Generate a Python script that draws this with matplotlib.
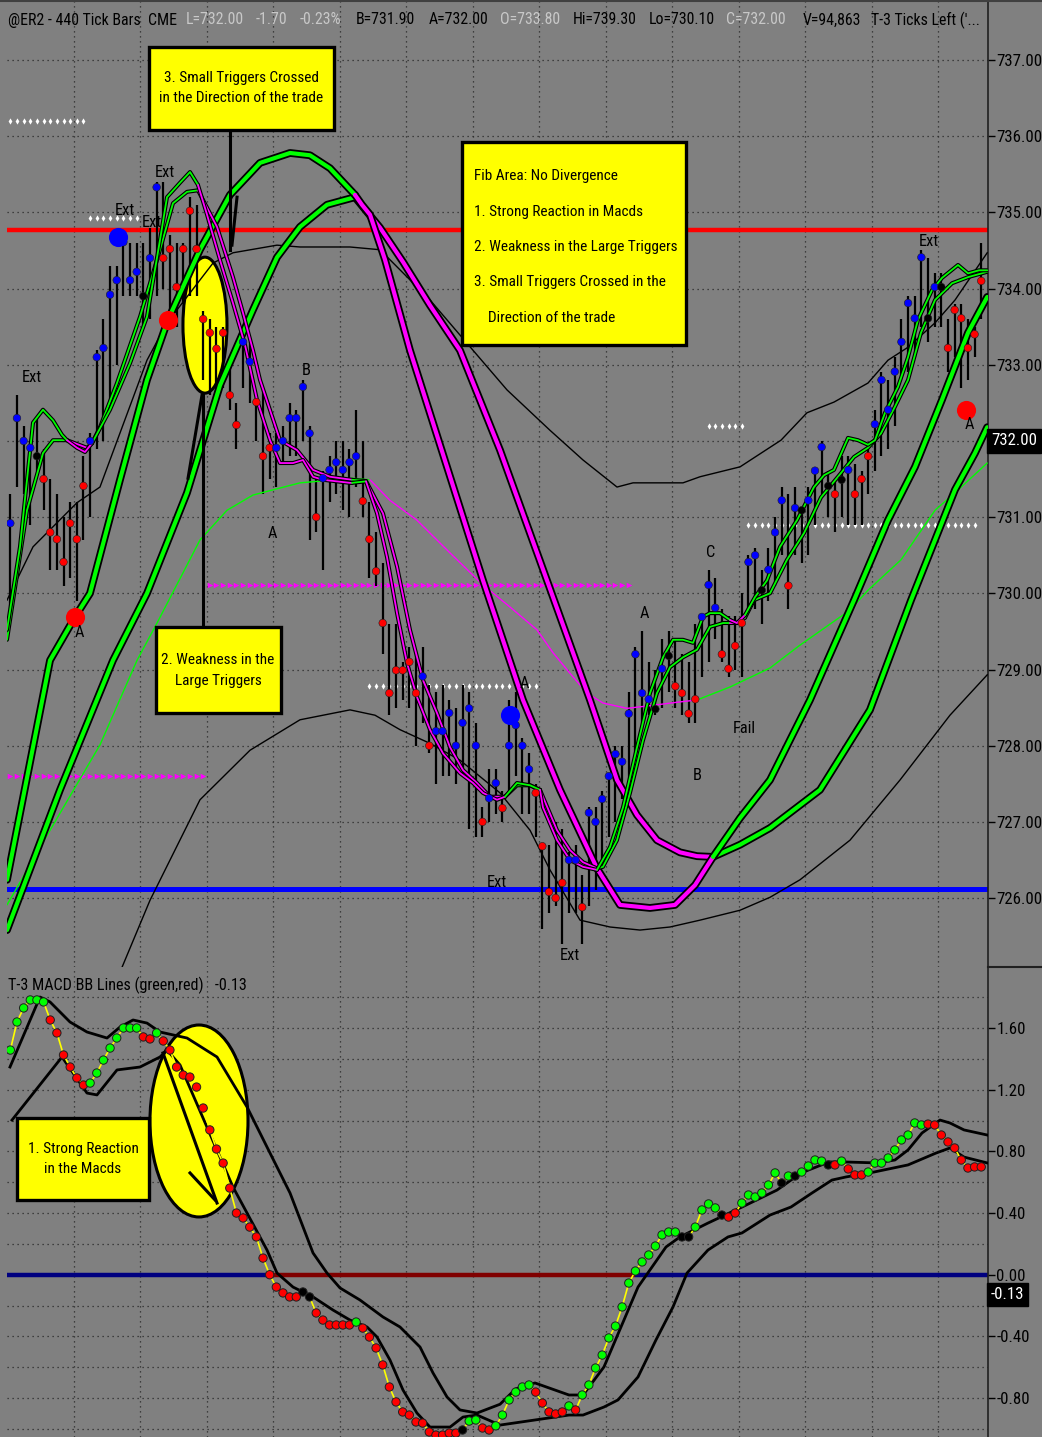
import matplotlib
matplotlib.use('Agg')
import matplotlib.pyplot as plt
from matplotlib.patches import Ellipse, Rectangle
from matplotlib.lines import Line2D
from matplotlib import font_manager

# ---- pick a narrow installed sans family (the reference uses a condensed UI font) ----
_tt = font_manager.fontManager.ttflist
_names = {f.name for f in _tt}
FAMILY, STRETCH = None, 'normal'
for p in ['Noto Sans ExtraCondensed', 'Liberation Sans Narrow', 'Noto Sans Condensed', 'Roboto Condensed',
          'Open Sans Condensed', 'DejaVu Sans Condensed', 'Noto Sans SemiCondensed']:
    if p in _names:
        FAMILY = p
        break
if FAMILY is None:
    cand = sorted(n for n in _names if ('Condensed' in n or 'Narrow' in n) and 'Mono' not in n
                  and 'Serif' not in n)
    if cand:
        FAMILY = cand[0]
if FAMILY is None and any(f.name == 'DejaVu Sans' and f.stretch == 'condensed' for f in _tt):
    FAMILY, STRETCH = 'DejaVu Sans', 'condensed'
if FAMILY is None:
    FAMILY = 'Liberation Sans'
plt.rcParams['font.family'] = [FAMILY, 'DejaVu Sans']
plt.rcParams['font.stretch'] = STRETCH

# ---------------- data: price bars ----------------
close = [
    730.92, 732.30, 732.00, 731.91, 731.80, 731.50, 730.80, 730.71, 730.41, 730.92,
    730.71, 731.41, 732.00, 733.10, 733.22, 733.92, 734.11, 734.61, 734.11, 734.22,
    733.90, 734.40, 735.33, 734.40, 734.52, 734.02, 734.52, 735.02, 734.52, 733.60,
    733.42, 733.21, 733.42, 732.60, 732.21, 733.30, 733.04, 732.51, 731.80, 731.91,
    731.91, 732.00, 732.30, 732.30, 732.71, 732.10, 731.00, 731.51, 731.62, 731.72,
    731.62, 731.72, 731.80, 731.21, 730.71, 730.29, 729.61, 728.69, 728.99, 728.99,
    729.10, 728.69, 728.91, 728.00, 728.19, 728.19, 728.43, 728.00, 728.30, 728.49,
    728.00, 727.00, 727.31, 727.51, 727.18, 728.00, 728.27, 728.00, 727.69, 727.38,
    726.68, 726.08, 726.00, 726.20, 726.50, 726.50, 725.88, 727.12, 727.00, 727.30,
    727.60, 727.89, 727.79, 728.42, 729.20, 728.69, 728.61, 728.48, 729.01, 729.18,
    728.78, 728.69, 728.42, 728.61, 729.69, 730.11, 729.81, 729.20, 729.01, 729.31,
    729.61, 730.41, 730.50, 730.04, 730.31, 730.80, 731.22, 730.10, 731.12, 731.09,
    731.22, 731.61, 731.92, 731.41, 731.30, 731.49, 731.62, 731.30, 731.50, 731.80,
    732.22, 732.80, 732.41, 732.91, 733.30, 733.81, 733.61, 734.41, 733.61, 734.02,
    734.02, 733.22, 733.72, 733.61, 733.22, 733.40, 734.10]
high = [
    731.3, 732.6, 732.2, 732.0, 732.3, 731.9, 731.5, 731.3, 731.0, 731.2,
    731.2, 731.8, 732.1, 733.2, 733.6, 734.3, 734.3, 734.7, 734.6, 734.6,
    734.6, 734.8, 735.4, 735.4, 734.7, 734.6, 734.6, 735.2, 735.1, 733.7,
    733.6, 733.5, 733.5, 733.0, 732.5, 733.4, 733.3, 732.6, 732.7, 732.1,
    732.1, 732.2, 732.5, 732.4, 732.8, 732.2, 731.5, 731.6, 731.8, 732.0,
    732.0, 731.9, 732.4, 732.0, 731.2, 730.8, 730.4, 729.6, 729.6, 729.1,
    729.3, 729.2, 729.3, 728.8, 728.7, 728.8, 728.6, 728.5, 728.8, 728.7,
    728.3, 727.2, 727.7, 727.7, 727.4, 728.6, 728.7, 728.1, 727.9, 727.5,
    726.7, 726.7, 727.0, 726.9, 726.6, 726.7, 726.3, 727.2, 727.2, 727.4,
    727.6, 728.0, 728.0, 728.7, 729.3, 729.5, 729.1, 729.0, 729.4, 729.5,
    729.4, 729.2, 729.1, 729.6, 729.7, 730.3, 730.2, 729.8, 729.7, 729.7,
    730.0, 730.5, 730.6, 730.3, 730.6, 731.0, 731.4, 731.3, 731.4, 731.1,
    731.4, 731.6, 732.0, 731.6, 731.5, 731.8, 731.8, 731.7, 731.6, 731.9,
    732.4, 732.9, 732.8, 733.1, 733.6, 733.9, 733.9, 734.5, 734.4, 734.2,
    734.2, 733.6, 733.8, 733.8, 733.6, 733.5, 734.6]
low = [
    729.7, 731.4, 731.3, 730.9, 731.6, 731.1, 730.3, 730.3, 730.1, 730.2,
    729.9, 730.7, 731.0, 731.9, 732.0, 732.5, 733.0, 733.9, 733.9, 733.9,
    733.5, 733.6, 733.9, 734.0, 733.6, 733.5, 733.8, 733.9, 733.9, 732.8,
    732.6, 732.6, 732.7, 732.4, 731.9, 732.7, 732.5, 732.0, 731.3, 731.5,
    731.4, 731.7, 731.8, 731.8, 732.0, 730.7, 730.8, 730.3, 731.2, 731.3,
    731.1, 731.0, 731.4, 731.0, 730.2, 730.1, 729.2, 728.4, 728.5, 728.6,
    728.5, 728.0, 728.3, 727.9, 727.5, 727.6, 727.6, 727.5, 727.6, 726.9,
    726.8, 726.8, 727.0, 727.1, 727.0, 727.4, 727.6, 727.1, 727.1, 726.8,
    725.6, 725.8, 725.9, 725.4, 725.8, 725.8, 725.4, 725.9, 726.1, 726.5,
    726.8, 727.0, 727.3, 727.4, 727.8, 728.2, 728.4, 728.4, 728.5, 728.7,
    728.5, 728.4, 728.3, 728.3, 728.9, 729.1, 729.4, 729.1, 728.9, 729.0,
    728.9, 729.8, 729.8, 729.6, 729.9, 730.1, 730.5, 729.8, 730.5, 730.4,
    730.5, 730.9, 731.3, 731.0, 730.8, 731.0, 730.9, 730.9, 730.9, 731.3,
    731.6, 731.8, 731.9, 732.2, 732.8, 732.9, 733.1, 733.5, 733.3, 733.5,
    733.5, 732.9, 733.1, 732.7, 732.8, 733.1, 733.6]
bar_col = ("BBBBKRRRRR" "RRBBBBBBBB" "KBBRRRRRRR" "RRRRRBBRRR" "BBBBBBRBBB"
           "BBBRRRRRRR" "RRBRBBBBBB" "BRBBRBBBBR" "RRRRBBRBBB" "BBBBBBBKBK"
           "RRRRBBBRRR" "RBBKBBBRBK" "BBBKRKBRRR" "BBBBBBBBKB" "KRRRRRR")

# ---------------- data: MACD dots ----------------
macd = [
    1.457, 1.639, 1.730, 1.782, 1.782, 1.769, 1.652, 1.568, 1.425, 1.347,
    1.276, 1.230, 1.243, 1.308, 1.392, 1.470, 1.535, 1.600, 1.600, 1.600,
    1.542, 1.529, 1.568, 1.516, 1.457, 1.347, 1.295, 1.282, 1.217, 1.081,
    0.939, 0.815, 0.724, 0.562, 0.400, 0.368, 0.309, 0.245, 0.108, 0.000,
    -0.080, -0.118, -0.144, -0.144, -0.112, -0.144, -0.248, -0.294, -0.326, -0.326,
    -0.326, -0.326, -0.307, -0.346, -0.404, -0.475, -0.585, -0.728, -0.825, -0.890,
    -0.910, -0.955, -0.962, -1.020, -1.040, -1.040, -1.027, -1.027, -1.007, -0.949,
    -0.942, -0.994, -1.007, -0.980, -0.910, -0.812, -0.761, -0.728, -0.715, -0.761,
    -0.832, -0.890, -0.903, -0.890, -0.851, -0.877, -0.780, -0.715, -0.605, -0.521,
    -0.410, -0.333, -0.209, -0.054, 0.024, 0.083, 0.128, 0.186, 0.258, 0.277,
    0.277, 0.245, 0.245, 0.309, 0.420, 0.459, 0.433, 0.387, 0.374, 0.400,
    0.465, 0.517, 0.504, 0.530, 0.582, 0.660, 0.595, 0.640, 0.640, 0.666,
    0.705, 0.744, 0.737, 0.712, 0.712, 0.737, 0.686, 0.647, 0.647, 0.666,
    0.724, 0.724, 0.757, 0.809, 0.874, 0.906, 0.984, 0.971, 0.977, 0.971,
    0.906, 0.861, 0.822, 0.744, 0.692, 0.699, 0.699]
macd_col = ("GGGGGGRRRR" "RRGGGGGGGG" "RRGRRRRRRR" "RRRRRRRRRR" "RRRRKKRRRR"
            "RRGRRRRRRR" "RRRRRRRRKG" "GRRGGGGGGR" "RRRRGRGGGG" "GGGGGGGGGG"
            "GKKGGGGKRR" "GGGGGGKGKG" "GGGKRGRRRG" "GGGGGGGGRR" "RRRRRRR")

# MACD Bollinger lines (bar position, value)
macd_upper_x = [0.45, 4.96, 6.47, 9.47, 12.03, 15.04, 16.99, 18.95, 21.05, 23.01, 27.07, 31.58,
                36.09, 39.10, 42.56, 46.02, 48.12, 50.08, 53.08, 56.54, 59.10, 62.11, 64.06,
                66.17, 68.12, 70.68, 74.14, 76.5, 79.40, 84.51, 86.62, 89.77, 94.89, 99.10,
                101.20, 105.41, 110.53, 115.79, 119.40, 123.61, 126.17, 130.83, 133.53,
                135.49, 137.59, 140.30, 141.80, 143.91, 147.4]
macd_upper_y = [1.347, 1.801, 1.769, 1.639, 1.574, 1.535, 1.606, 1.652, 1.632, 1.574, 1.535, 1.412,
                1.088, 0.828, 0.530, 0.141, 0.011, -0.086, -0.164, -0.274, -0.339, -0.469, -0.637,
                -0.793, -0.877, -0.897, -0.84, -0.74, -0.702, -0.780, -0.780, -0.598, -0.080, 0.180,
                0.245, 0.335, 0.439, 0.549, 0.660, 0.731, 0.731, 0.725, 0.744,
                0.809, 0.919, 1.003, 0.984, 0.939, 0.906]
macd_lower_x = [0.75, 8.27, 12.03, 13.53, 16.54, 20.00, 23.01, 24.06, 26.02, 33.98, 39.10, 40.60,
                43.01, 46.02, 49.02, 51.58, 54.14, 55.64, 57.59, 59.55, 61.65, 63.61, 66.62,
                68.57, 70.68, 74.14, 79.40, 84.51, 86.62, 89.77, 91.88, 94.89, 97.59, 100.15,
                102.26, 105.41, 108.42, 110.53, 114.74, 117.89, 121.05, 124.06, 126.17,
                130.38, 135.49, 139.70, 141.80, 143.91, 147.4]
macd_lower_y = [1.003, 1.412, 1.178, 1.166, 1.328, 1.347, 1.412, 1.457, 1.360, 0.569, 0.160, 0.011,
                -0.080, -0.144, -0.229, -0.294, -0.339, -0.404, -0.553, -0.748, -0.897, -0.988, -0.988,
                -0.923, -0.910, -0.975, -0.942, -0.910, -0.910, -0.858, -0.812, -0.663, -0.423, -0.209,
                0.011, 0.160, 0.245, 0.271, 0.387, 0.439, 0.530, 0.614, 0.634,
                0.666, 0.712, 0.789, 0.822, 0.763, 0.725]

# ---------------- data: indicator lines on price panel ----------------
large_fast = [
    ('G', [0.0, 6.47, 10.23, 12.48, 16.99, 21.05, 24.21, 29.02, 33.53, 38.05, 42.56, 45.56, 48.57, 52.33],
          [726.24, 729.12, 729.69, 730.00, 731.49, 732.80, 733.59, 734.51, 735.23, 735.65, 735.78, 735.75, 735.58, 735.23]),
    ('M', [52.33, 53.38, 54.59, 56.84, 60.60, 71.58, 77.59, 83.16, 88.72, 92.18, 96.69, 100.45, 103.46, 106.17],
          [735.23, 735.10, 734.97, 734.38, 733.19, 730.17, 728.60, 727.42, 726.39, 725.91, 725.87, 725.91, 726.17, 726.54]),
    ('G', [106.17, 110.23, 114.74, 120.75, 127.37, 132.48, 136.54, 140.60, 144.51, 147.4],
          [726.54, 727.05, 727.55, 728.60, 729.91, 730.96, 731.66, 732.54, 733.42, 733.89]),
]
large_slow = [
    ('G', [0.0, 7.97, 15.94, 21.05, 27.07, 32.03, 36.99, 40.60, 44.06, 48.12, 52.33],
          [725.58, 727.42, 729.12, 730.00, 731.32, 732.73, 733.72, 734.41, 734.81, 735.10, 735.20]),
    ('M', [52.33, 56.09, 59.55, 63.61, 68.12, 74.14, 81.20, 87.67, 91.73, 94.74, 97.74, 101.20, 103.76, 106.17],
          [735.20, 734.80, 734.35, 733.78, 733.19, 731.88, 730.17, 728.60, 727.55, 727.09, 726.76, 726.60, 726.55, 726.54]),
    ('G', [106.17, 110.23, 114.74, 122.26, 129.77, 135.94, 139.55, 142.56, 145.56, 147.4],
          [726.54, 726.70, 726.92, 727.42, 728.47, 729.91, 730.70, 731.36, 731.84, 732.18]),
]
small_fast = [
    ('G', [0.0, 1.95, 3.91, 5.41, 6.92, 8.27, 9.02], [729.52, 730.61, 732.24, 732.41, 732.27, 732.08, 732.01]),
    ('M', [9.02, 10.53, 11.73, 12.78], [732.01, 731.91, 731.855, 731.97]),
    ('G', [12.78, 15.49, 18.50, 21.05, 23.01, 24.06, 26.02, 27.52, 28.72],
          [731.97, 732.41, 733.02, 733.63, 734.64, 735.20, 735.39, 735.53, 735.36]),
    ('M', [28.72, 30.08, 32.03, 33.98, 35.79, 37.59, 39.55, 41.05, 43.01, 44.51, 46.02, 47.52, 51.58, 51.88],
          [735.36, 734.97, 734.375, 733.81, 733.26, 732.54, 732.01, 731.71, 731.71, 731.75, 731.53, 731.49, 731.45, 731.45]),
    ('G', [51.88, 53.98], [731.45, 731.47]),
    ('M', [53.98, 55.64, 57.14, 58.65, 60.15, 61.65, 63.61, 65.56, 68.12, 70.08, 71.58, 73.68, 74.89],
          [731.47, 731.05, 730.476, 729.74, 729.085, 728.64, 728.21, 727.90, 727.64, 727.51, 727.38, 727.29, 727.33]),
    ('G', [74.89, 76.69, 78.65, 80.15], [727.33, 727.51, 727.48, 727.42]),
    ('M', [80.15, 80.60, 82.71, 84.66, 86.62, 88.72], [727.42, 727.19, 726.76, 726.50, 726.41, 726.37]),
    ('G', [88.72, 90.68, 92.63, 94.74, 96.69, 98.65, 100.15, 101.65, 103.16, 104.66, 105.71, 107.22, 108.72],
          [726.37, 726.67, 727.19, 727.98, 728.69, 729.16, 729.39, 729.39, 729.35, 729.69, 729.74, 729.74, 729.65]),
    ('M', [108.72, 109.77, 110.98], [729.65, 729.61, 729.715]),
    ('G', [110.98, 112.48, 114.29, 116.24, 118.80, 121.35, 122.86, 124.36, 126.47, 127.97, 129.47, 130.53,
           132.03, 133.98, 135.49, 136.99, 139.10, 140.60, 143.01, 144.51, 146.17, 147.4],
          [729.715, 729.95, 730.17, 730.61, 730.96, 731.395, 731.55, 731.62, 732.04, 732.01, 731.95, 732.01,
           732.37, 732.71, 733.10, 733.59, 733.98, 734.14, 734.31, 734.20, 734.24, 734.24]),
]
small_slow = [
    ('G', [0.0, 3.01, 5.41, 6.92, 9.02], [729.39, 731.09, 731.84, 732.01, 732.01]),
    ('M', [9.02, 10.53, 12.03, 12.78], [732.01, 731.96, 731.91, 731.97]),
    ('G', [12.78, 13.98, 16.54, 20.00, 23.01, 24.96, 27.07, 28.72],
          [731.97, 732.18, 732.76, 733.63, 734.51, 735.12, 735.27, 735.29]),
    ('M', [28.72, 31.58, 33.98, 35.49, 36.99, 38.05, 41.05, 43.61, 46.02, 48.57, 51.88],
          [735.29, 734.81, 734.15, 733.68, 733.19, 732.80, 732.01, 731.88, 731.62, 731.53, 731.49]),
    ('G', [51.88, 53.98], [731.49, 731.474]),
    ('M', [53.98, 54.14, 56.54, 58.65, 60.60, 62.56, 64.66, 66.62, 68.57, 70.68, 72.63, 74.89],
          [731.474, 731.45, 731.05, 730.35, 729.52, 728.86, 728.43, 727.98, 727.68, 727.51, 727.33, 727.33]),
    ('G', [74.89, 76.69, 78.65, 80.15], [727.33, 727.48, 727.48, 727.42]),
    ('M', [80.15, 82.71, 84.66, 86.62, 88.72], [727.42, 726.89, 726.63, 726.47, 726.39]),
    ('G', [88.72, 89.62, 91.73, 93.68, 95.64, 97.74, 99.70, 101.65, 103.76, 105.71, 107.67, 108.72],
          [726.39, 726.41, 726.76, 727.38, 728.07, 728.69, 729.03, 729.16, 729.26, 729.56, 729.61, 729.61]),
    ('M', [108.72, 109.77, 110.98], [729.61, 729.61, 729.68]),
    ('G', [110.98, 112.33, 114.74, 117.29, 119.85, 122.41, 124.96, 127.37, 129.47, 131.43, 133.53,
           135.49, 137.44, 139.55, 142.11, 144.51, 147.4],
          [729.68, 729.91, 730.00, 730.44, 730.79, 731.26, 731.53, 731.79, 731.91, 732.10, 732.45,
           732.80, 733.42, 733.85, 734.07, 734.15, 734.22]),
]
ma_line = [
    ('G', [0.0, 6.47, 13.98, 19.55, 22.56, 29.02, 33.08, 36.99, 44.06, 52.03, 54.59],
          [725.91, 726.89, 728.01, 729.12, 729.61, 730.70, 731.09, 731.29, 731.45, 731.51, 731.49]),
    ('M', [54.59, 57.59, 61.65, 66.62, 71.58, 75.64, 79.70, 82.11, 84.66, 87.22, 89.62, 93.23, 97.14, 100.75, 103.76],
          [731.49, 731.22, 730.96, 730.53, 730.11, 729.82, 729.52, 729.22, 728.95, 728.69, 728.56, 728.49, 728.53, 728.57, 728.60]),
    ('G', [103.76, 108.72, 114.74, 119.25, 126.77, 129.47, 134.44, 139.55, 142.56, 147.4],
          [728.60, 728.77, 729.02, 729.32, 729.78, 730.04, 730.44, 731.09, 731.32, 731.71]),
]
bb_upper_x = [0.0, 3.91, 10.53, 13.98, 21.05, 24.06, 30.98, 33.98, 40.60, 44.06, 51.58, 56.09, 63.61,
              70.08, 75.19, 81.65, 86.62, 91.73, 94.14, 101.65, 104.21, 110.23, 116.39, 120.30,
              124.36, 129.47, 132.48, 135.49, 139.55, 142.56, 147.4]
bb_upper_y = [729.91, 730.61, 731.19, 731.395, 733.06, 733.55, 734.335, 734.47, 734.57, 734.546, 734.546,
              734.51, 733.85, 733.19, 732.67, 732.14, 731.75, 731.395, 731.45, 731.45, 731.53, 731.66,
              732.01, 732.37, 732.51, 732.76, 733.06, 733.23, 733.55, 733.85, 734.47]
bb_lower_x = [17.29, 21.50, 29.02, 36.54, 44.06, 51.58, 55.34, 59.10, 63.61, 68.12, 74.14, 78.65, 81.65,
              86.17, 90.68, 95.19, 99.70, 104.21, 110.23, 114.74, 119.25, 126.77, 134.29, 141.80, 147.4]
bb_lower_y = [725.09, 725.97, 727.29, 727.94, 728.34, 728.47, 728.40, 728.21, 728.03, 727.81, 727.38,
              726.89, 726.37, 725.71, 725.62, 725.58, 725.62, 725.71, 725.84, 726.01, 726.24, 726.76,
              727.55, 728.40, 728.93]

# level lines and marker rows
red_level = 734.77
blue_level = 726.12
white_rows = [(736.20, 0, 11), (734.93, 12, 19), (732.20, 105, 110), (730.90, 111, 145), (728.78, 54, 79)]
pink_rows = [(730.11, 30, 93), (727.60, 0, 29)]
big_dots = [(16.69, 734.68, 'B'), (24.21, 733.59, 'R'), (10.23, 729.69, 'R'), (75.64, 728.40, 'B'), (144.21, 732.41, 'R')]
labels = [("Ext", 3.76, 732.83), ("Ext", 17.74, 735.03), ("Ext", 21.80, 734.87), ("Ext", 23.76, 735.52),
          ("Ext", 138.65, 734.62), ("Ext", 73.68, 726.21), ("Ext", 84.66, 725.24),
          ("A", 10.83, 729.49), ("A", 39.85, 730.79), ("A", 77.74, 728.82), ("A", 95.79, 729.73),
          ("A", 144.66, 732.21), ("B", 44.96, 732.92), ("B", 103.76, 727.61), ("C", 105.86, 730.53),
          ("Fail", 110.83, 728.23)]
price_ticks = [726, 727, 728, 729, 730, 731, 732, 733, 734, 735, 736, 737]
macd_ticks = [-0.8, -0.4, 0.0, 0.4, 0.8, 1.2, 1.6]
last_price = 732.00
last_macd = -0.13

# ---------------- figure ----------------
W, H = 1042, 1437
BG = '#808080'
fig = plt.figure(figsize=(W / 100, H / 100), dpi=100, facecolor=BG)
renderer = fig.canvas.get_renderer()


def fit(text, target_px, max_pt):
    t = fig.text(0, 0, text, fontsize=20)
    w = t.get_window_extent(renderer=renderer).width
    t.remove()
    return min(max_pt, 20.0 * target_px / w)


FS_HEAD = fit("@ER2 - 440 Tick Bars  CME", 169, 16)
FS_TICK = fit("737.00", 46, 16)
FS_BOX = fit("Fib Area: No Divergence", 144, 15)
FS_LAB = fit("Ext", 20, 16)
FS_TITLE = fit("T-3 MACD BB Lines (green,red)   -0.13", 239, 16)

L, R, SPLIT = 7, 988, 967
ax1 = fig.add_axes([L / W, 1 - SPLIT / H, (R - L) / W, SPLIT / H])
ax2 = fig.add_axes([L / W, 0, (R - L) / W, (H - SPLIT) / H])
XMAX = (R - L) / 6.65
ax1.set_xlim(0, XMAX)
ax2.set_xlim(0, XMAX)
ax1.set_ylim(725.095, 737.788)
ax2.set_ylim(-1.0524, 1.9956)

COL = {'G': '#00ff00', 'M': '#ff00ff', 'R': '#ff0000', 'B': '#0000ff', 'K': '#000000'}
GRID = dict(color='#2a2a2a', lw=0.9, ls=(0, (1, 3)), zorder=0.5)

for ax in (ax1, ax2):
    ax.set_facecolor(BG)
    for s in ('top', 'left', 'bottom'):
        ax.spines[s].set_visible(False)
    ax.spines['right'].set_color('#202020')
    ax.spines['right'].set_linewidth(1.2)
    ax.set_xticks([])
    ax.yaxis.tick_right()
    ax.tick_params(axis='y', length=5, width=1, color='black', pad=1,
                   labelsize=FS_TICK, labelcolor='black')
    for gx in range(10, 150, 10):
        ax.axvline(gx, **GRID)

ax1.set_yticks(price_ticks)
# the 732.00 level is shown in the black "last price" box instead of a plain label
ax1.set_yticklabels(["" if v == round(last_price) else f"{v:.2f}" for v in price_ticks])
for v in price_ticks:
    ax1.axhline(v, **GRID)
ax2.set_yticks(macd_ticks)
ax2.set_yticklabels([f"{v:.2f}" for v in macd_ticks])
for k in range(-5, 10):
    ax2.axhline(k * 0.2, **GRID)

xb = [i + 0.5 for i in range(len(close))]

# ---------- price panel ----------
ax1.axhline(red_level, color='#ff0000', lw=3.2, zorder=2)
ax1.axhline(blue_level, color='#0000ff', lw=3.6, zorder=2)
ax1.add_patch(Ellipse((29.77, 733.52), 6.62, 1.785, facecolor='#ffff00', edgecolor='black', lw=2.2, zorder=1))

for (y, a, b) in white_rows:
    ax1.scatter([i + 0.5 for i in range(a, b + 1)], [y] * (b - a + 1), marker='d', s=10,
                color='white', linewidths=0, zorder=2.5)
for (y, a, b) in pink_rows:
    ax1.scatter([i + 0.5 for i in range(a, b + 1)], [y] * (b - a + 1), marker='>', s=16,
                color='#ff00ff', linewidths=0, zorder=2.5)

ax1.plot(bb_upper_x, bb_upper_y, color='black', lw=1.0, zorder=2.6)
ax1.plot(bb_lower_x, bb_lower_y, color='black', lw=1.0, zorder=2.6)

ax1.vlines(xb, low, high, color='black', lw=1.6, zorder=3)


def draw_segments(ax, segs, lw_in, lw_out, z):
    for c, xs, ys in segs:
        if lw_out:
            ax.plot(xs, ys, color='black', lw=lw_out, zorder=z, solid_capstyle='round', solid_joinstyle='round')
    for c, xs, ys in segs:
        ax.plot(xs, ys, color=COL[c], lw=lw_in, zorder=z + 0.01, solid_capstyle='round', solid_joinstyle='round')


draw_segments(ax1, ma_line, 1.0, 0, 3.5)
draw_segments(ax1, large_slow, 3.0, 5.6, 4.0)
draw_segments(ax1, large_fast, 3.0, 5.6, 4.1)
draw_segments(ax1, small_slow, 1.3, 2.9, 4.4)
draw_segments(ax1, small_fast, 1.3, 2.9, 4.5)

ax1.scatter(xb, close, s=30, c=[COL[c] for c in bar_col], edgecolors='#202020', linewidths=0.4, zorder=5)
for (x, y, c) in big_dots:
    ax1.scatter([x], [y], s=190, c=COL[c], marker='o', linewidths=0, zorder=5.2)

for (t, x, y) in labels:
    ax1.text(x, y, t, fontsize=FS_LAB, color='black', ha='center', va='center', zorder=5.5)


def ybox(ax, x0, y0, x1, y1, z=8):
    ax.add_patch(Rectangle((x0, y0), x1 - x0, y1 - y0, facecolor='#ffff00', edgecolor='black', lw=2.4, zorder=z))


ybox(ax1, 21.35, 736.08, 49.17, 737.17)
ax1.text(35.19, 736.63, "3. Small Triggers Crossed\nin the Direction of the trade", ha='center', va='center',
         fontsize=FS_BOX, linespacing=1.5, zorder=9)
ybox(ax1, 68.42, 733.26, 102.11, 735.92)
fib_lines = ["Fib Area: No Divergence", "1. Strong Reaction in Macds", "2. Weakness in the Large Triggers",
             "3. Small Triggers Crossed in the", "    Direction of the trade"]
fib_y = [735.48, 735.01, 734.54, 734.09, 733.62]
for t, y in zip(fib_lines, fib_y):
    ax1.text(70.2, y, t, ha='left', va='center', fontsize=FS_BOX, zorder=9)
ybox(ax1, 22.41, 728.43, 41.20, 729.56)
ax1.text(31.73, 728.99, "2. Weakness in the\nLarge Triggers", ha='center', va='center',
         fontsize=FS_BOX, linespacing=1.6, zorder=9)

ax1.plot([33.53, 33.53], [736.08, 734.51], color='black', lw=2.2, zorder=7)
ax1.plot([34.59, 33.83], [735.20, 734.57], color='black', lw=2.2, zorder=7)
ax1.plot([29.47, 29.47], [729.56, 732.63], color='black', lw=2.2, zorder=7)
ax1.plot([29.32, 27.22], [732.60, 731.51], color='black', lw=2.2, zorder=7)

# ---------- MACD panel ----------
ax2.add_patch(Ellipse((28.87, 0.997), 14.74, 1.245, facecolor='#ffff00', edgecolor='black', lw=2.2, zorder=1))
zero_segs = [(0.0, 39.55, '#000080'), (39.55, 94.44, '#800000'), (94.44, XMAX, '#000080')]
for a, b, c in zero_segs:
    ax2.plot([a, b], [0, 0], color=c, lw=3.2, zorder=2, solid_capstyle='butt')
ax2.plot(macd_upper_x, macd_upper_y, color='black', lw=2.0, zorder=3)
ax2.plot(macd_lower_x, macd_lower_y, color='black', lw=2.0, zorder=3)
ax2.plot(xb, macd, color='#ffff00', lw=1.2, zorder=4)
ax2.scatter(xb, macd, s=36, c=[COL[c] for c in macd_col], edgecolors='#202020', linewidths=0.7, zorder=5)

ybox(ax2, 1.5, 0.485, 21.35, 1.016)
ax2.text(11.43, 0.75, "1. Strong Reaction\nin the Macds", ha='center', va='center',
         fontsize=FS_BOX, linespacing=1.6, zorder=9)
ax2.plot([23.46, 31.58], [1.438, 0.465], color='black', lw=2.2, zorder=7)
ax2.plot([27.52, 31.28], [0.660, 0.485], color='black', lw=2.2, zorder=7)

# current value boxes on the axis
for ax, v in ((ax1, last_price), (ax2, last_macd)):
    ax.annotate(f"{v:.2f}", xy=(1.0, v), xycoords=('axes fraction', 'data'),
                xytext=(2, 0), textcoords='offset points', ha='left', va='center', color='white',
                fontsize=FS_TICK, bbox=dict(boxstyle='square,pad=0.25', fc='black', ec='black'),
                annotation_clip=False, zorder=10)

fig.add_artist(Line2D([R / W, 1.0], [1 - SPLIT / H, 1 - SPLIT / H], color='#202020', lw=1.5))
fig.add_artist(Line2D([0, 1.0], [1 - 1 / H, 1 - 1 / H], color='#404040', lw=1.5))

GRAY = '#c8c8c8'
header = [("@ER2 - 440 Tick Bars  CME", 8, 'black'), ("L=732.00", 186, GRAY), ("-1.70", 256, GRAY),
          ("-0.23%", 300, GRAY), ("B=731.90", 356, 'black'), ("A=732.00", 429, 'black'),
          ("O=733.80", 500, GRAY), ("Hi=739.30", 573, 'black'), ("Lo=730.10", 649, 'black'),
          ("C=732.00", 726, GRAY), ("V=94,863", 803, 'black'), ("T-3 Ticks Left ('...", 871, 'black')]
for t, x, c in header:
    fig.text(x / W, 1 - 20 / H, t, color=c, fontsize=FS_HEAD, ha='left', va='center')
fig.text(8 / W, 1 - 985 / H, "T-3 MACD BB Lines (green,red)   -0.13", color='black',
         fontsize=FS_TITLE, ha='left', va='center')

fig.savefig('out.png', dpi=100, facecolor=BG)
